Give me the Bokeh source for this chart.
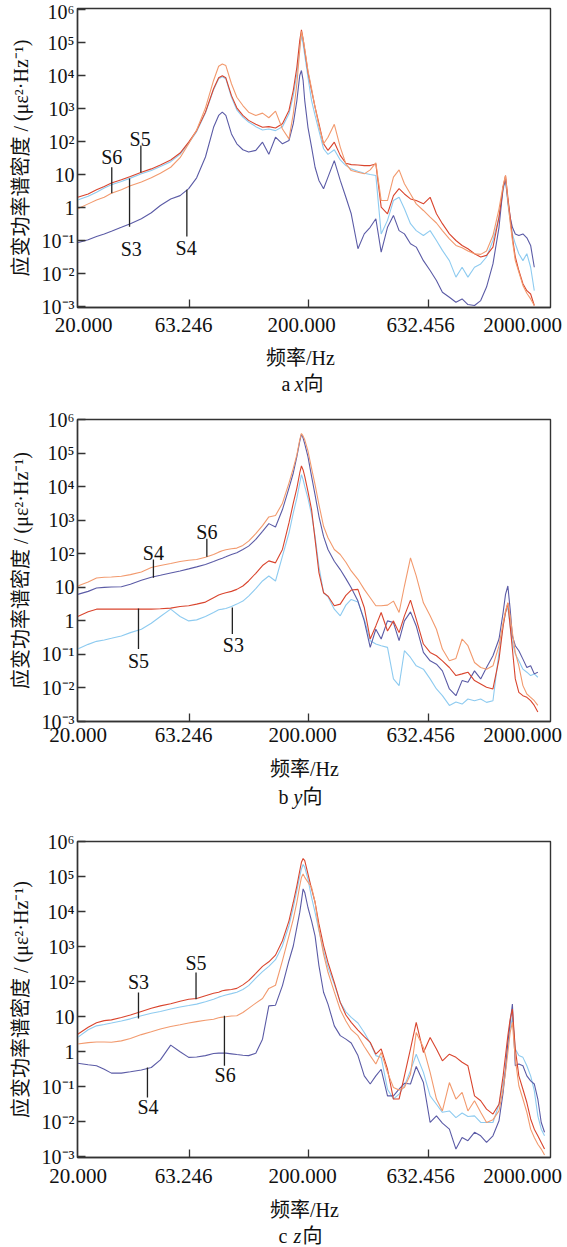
import numpy as np
from bokeh.plotting import figure
from bokeh.models import Range1d, FixedTicker, Label, LinearAxis, LinearScale
from bokeh.layouts import column
from bokeh.embed import file_html
from bokeh.resources import INLINE

# ---------------- data (frequency in Hz, PSD as log10 of με²/Hz) ----------------
FREQ_HZ = [21.7, 24, 26, 28, 30, 33, 36, 40, 44, 48, 53, 58, 63, 68, 74, 80, 84, 87, 90, 95,
           100, 106, 112, 120, 128, 136, 145, 155, 165, 172, 178, 183, 186, 189, 192, 198,
           205, 212, 220, 230, 240, 255, 270, 285, 300, 320, 340, 360, 380, 400, 425, 450,
           475, 500, 530, 560, 600, 640, 680, 720, 770, 820, 870, 920, 980, 1040, 1100, 1170,
           1240, 1290, 1320, 1350, 1380, 1410, 1450, 1500, 1560, 1620, 1680, 1740, 1800,
           1860, 1920]

# panel a : x direction
S3_A_LOG10 = [0.24, 0.35, 0.47, 0.60, 0.70, 0.80, 0.90, 1.03, 1.13, 1.25,
              1.40, 1.62, 1.96, 2.31, 2.87, 3.58, 3.91, 3.97, 3.91, 3.35,
              2.97, 2.75, 2.60, 2.46, 2.36, 2.39, 2.34, 2.46, 2.85, 3.40,
              4.06, 4.87, 5.22, 4.97, 4.62, 3.96, 3.25, 2.80, 2.34, 1.79,
              1.62, 1.76, 1.45, 1.28, 1.18, 1.11, 1.05, 1.01, 0.98, -0.79,
              -0.38, 0.22, 0.32, -0.03, -0.48, -0.69, -0.84, -0.69, -0.99, -1.29,
              -1.60, -2.10, -1.80, -2.10, -1.80, -1.70, -1.49, -0.99, -0.28, 0.53,
              0.88, 0.12, -0.38, -0.79, -1.09, -1.39, -1.60, -1.39, -1.80, -2.51]
S4_A_LOG10 = [-1.06, -0.97, -0.87, -0.79, -0.71, -0.59, -0.48, -0.33, -0.15, 0.07,
              0.27, 0.37, 0.58, 0.91, 1.54, 2.44, 2.80, 2.90, 2.80, 2.24,
              1.94, 1.76, 1.69, 1.74, 1.99, 1.62, 2.14, 1.94, 2.04, 2.55,
              3.25, 4.01, 4.16, 3.86, 3.25, 2.44, 1.84, 1.23, 0.83, 0.58,
              0.93, 1.43, 0.83, 0.32, -0.18, -1.24, -0.79, -0.59, -0.33, -1.34,
              -0.59, -0.23, -0.69, -0.79, -1.09, -1.19, -1.60, -1.90, -2.20, -2.56,
              -2.71, -2.86, -2.76, -2.93, -2.96, -2.81, -2.40, -1.70, -0.59, 0.63,
              0.83, 0.22, -0.28, -0.59, -0.79, -0.84, -0.79, -0.91, -1.14, -1.80]
S5_A_LOG10 = [0.32, 0.42, 0.55, 0.65, 0.75, 0.85, 0.95, 1.08, 1.18, 1.30,
              1.45, 1.66, 1.99, 2.34, 2.90, 3.61, 3.94, 4.00, 3.94, 3.40,
              3.03, 2.80, 2.65, 2.53, 2.44, 2.46, 2.42, 2.55, 2.95, 3.56,
              4.26, 5.07, 5.39, 5.12, 4.77, 4.11, 3.56, 3.05, 2.55, 1.94,
              1.74, 1.99, 1.59, 1.35, 1.31, 1.30, 1.28, 1.28, 1.33, 0.02,
              -0.18, 0.37, 0.58, 0.42, 0.27, 0.22, 0.12, 0.32, -0.18, -0.48,
              -0.79, -0.99, -1.14, -1.24, -1.39, -1.49, -1.44, -1.19, -0.28, 0.63,
              0.98, 0.32, -0.28, -0.89, -1.49, -1.90, -2.30, -2.51, -2.61, -2.96]
S6_A_LOG10 = [-0.03, 0.12, 0.24, 0.32, 0.44, 0.55, 0.67, 0.78, 0.91, 1.05,
              1.23, 1.52, 1.94, 2.36, 3.03, 3.86, 4.29, 4.36, 4.31, 3.76,
              3.35, 3.10, 2.90, 2.80, 2.87, 2.73, 2.93, 2.39, 2.09, 2.85,
              3.76, 4.77, 5.35, 5.12, 4.82, 4.16, 3.61, 3.05, 2.49, 1.94,
              2.14, 2.53, 1.84, 1.33, 1.13, 1.08, 1.03, 1.15, 1.36, 0.22,
              0.22, 0.93, 1.15, 0.73, 0.42, 0.12, -0.08, -0.28, -0.46, -0.69,
              -0.94, -1.14, -1.21, -1.31, -1.39, -1.41, -1.31, -0.84, -0.03, 0.68,
              0.98, 0.22, -0.43, -0.99, -1.60, -1.95, -2.35, -2.59, -2.76, -2.96]

# panel b : y direction
S3_B_LOG10 = [-0.84, -0.70, -0.61, -0.57, -0.52, -0.45, -0.35, -0.25, -0.07, 0.13,
              0.35, 0.13, 0.00, 0.03, 0.13, 0.25, 0.33, 0.35, 0.37, 0.43,
              0.50, 0.59, 0.74, 0.96, 1.19, 1.34, 1.19, 1.93, 2.62, 3.22,
              3.66, 4.11, 4.36, 4.21, 4.01, 3.66, 3.17, 2.52, 1.63, 0.84,
              0.72, 0.35, 0.15, 0.47, 0.64, 0.56, 0.05, -0.59, -0.69, -0.74,
              -0.79, -1.73, -1.93, -0.89, -1.09, -1.34, -1.44, -1.73, -2.03, -2.23,
              -2.52, -2.42, -2.48, -2.33, -2.38, -2.33, -2.43, -2.38, -0.94, -0.15,
              0.25, 0.40, -0.15, -0.64, -0.99, -1.19, -1.44, -1.53, -1.63, -1.58, -1.68]
S4_B_LOG10 = [0.79, 0.88, 0.98, 1.00, 1.01, 1.02, 1.09, 1.21, 1.30, 1.36,
              1.43, 1.49, 1.55, 1.61, 1.68, 1.77, 1.83, 1.87, 1.91, 1.98,
              2.03, 2.13, 2.23, 2.43, 2.67, 2.90, 2.80, 3.32, 3.96, 4.41,
              4.90, 5.35, 5.57, 5.45, 5.28, 4.90, 4.31, 3.76, 3.12, 2.52,
              2.13, 1.78, 1.53, 1.26, 0.99, 0.59, 0.00, -0.79, -0.25, -0.54,
              0.00, -0.05, -0.59, 0.00, 0.27, -0.15, -0.94, -1.19, -1.29, -1.49,
              -2.03, -2.23, -1.78, -1.83, -1.49, -1.73, -1.39, -1.04, -0.54, 0.25,
              0.79, 1.04, 0.35, -0.45, -0.74, -0.89, -1.14, -1.39, -1.34, -1.58, -1.53]
S5_B_LOG10 = [0.13, 0.27, 0.35, 0.35, 0.35, 0.35, 0.35, 0.35, 0.35, 0.36,
              0.38, 0.43, 0.45, 0.50, 0.56, 0.69, 0.77, 0.81, 0.84, 0.88,
              0.94, 1.04, 1.19, 1.42, 1.65, 1.79, 1.73, 2.13, 2.92, 3.51,
              3.96, 4.41, 4.62, 4.50, 4.31, 3.86, 3.32, 2.43, 1.44, 0.84,
              0.74, 0.45, 0.50, 0.76, 0.92, 0.94, 0.40, -0.54, -0.15, 0.25,
              -0.30, 0.00, -0.35, 0.15, 0.62, 0.05, -0.69, -0.94, -1.04, -1.19,
              -1.39, -1.63, -1.58, -1.53, -1.78, -1.88, -1.98, -2.03, -1.14, -0.15,
              0.25, 0.54, -0.15, -0.84, -1.73, -2.13, -2.23, -2.28, -2.38, -2.52, -2.72]
S6_B_LOG10 = [1.04, 1.16, 1.28, 1.30, 1.31, 1.33, 1.38, 1.46, 1.59, 1.65,
              1.71, 1.77, 1.81, 1.83, 1.90, 1.98, 2.05, 2.09, 2.12, 2.15,
              2.17, 2.25, 2.38, 2.60, 2.84, 3.10, 3.14, 3.51, 4.11, 4.55,
              4.95, 5.40, 5.59, 5.51, 5.40, 5.07, 4.55, 4.06, 3.47, 2.82,
              2.48, 2.13, 1.98, 1.75, 1.49, 1.24, 0.94, 0.69, 0.45, 0.45,
              0.47, 0.59, 0.25, 1.04, 1.88, 1.34, 0.54, 0.15, -0.25, -0.84,
              -1.19, -1.12, -0.54, -0.74, -1.24, -1.39, -1.44, -1.34, -0.74, -0.05,
              0.30, 0.54, 0.15, -0.35, -0.94, -1.34, -1.93, -2.18, -2.28, -2.38, -2.52]

# panel c : z direction
S3_C_LOG10 = [0.41, 0.63, 0.74, 0.78, 0.82, 0.88, 0.94, 1.03, 1.10, 1.15,
              1.22, 1.28, 1.32, 1.36, 1.43, 1.50, 1.56, 1.59, 1.62, 1.66,
              1.70, 1.78, 1.89, 2.10, 2.29, 2.44, 2.63, 3.03, 3.60, 4.12,
              4.60, 5.01, 5.22, 5.35, 5.27, 4.93, 4.41, 3.98, 3.46, 2.89,
              2.41, 1.93, 1.41, 1.14, 0.98, 0.82, 0.55, 0.25, -0.11, -0.16,
              -1.07, -1.35, -1.21, -0.97, -0.54, -0.07, -0.59, -1.26, -1.50, -1.73,
              -1.69, -1.88, -1.75, -1.85, -1.83, -2.02, -2.02, -2.02, -1.50, -0.88,
              -0.50, 0.17, 0.65, 0.98, 0.08, -0.11, -0.16, -0.40, -0.69, -1.11,
              -1.83, -2.21, -2.40]
S4_C_LOG10 = [-0.33, -0.37, -0.40, -0.50, -0.61, -0.61, -0.57, -0.52, -0.45, -0.23,
              0.19, 0.00, -0.16, -0.15, -0.11, -0.05, -0.04, -0.04, -0.04, -0.06,
              -0.08, -0.10, -0.11, -0.04, 0.36, 1.31, 1.33, 1.89, 2.60, 3.02,
              3.55, 3.98, 4.31, 4.65, 4.55, 4.12, 3.74, 3.31, 2.46, 1.70,
              1.36, 0.74, 0.46, 0.36, 0.25, -0.11, -0.69, -0.92, -0.69, -0.50,
              -1.26, -1.26, -1.07, -0.90, -0.92, -0.42, -0.88, -2.02, -1.83, -2.04,
              -2.21, -2.78, -2.45, -2.54, -2.30, -2.40, -2.59, -2.40, -1.97, -1.16,
              -0.50, 0.27, 0.84, 1.36, -0.40, -0.35, -0.40, -0.69, -0.83, -0.92,
              -1.35, -2.02, -2.30]
S5_C_LOG10 = [0.50, 0.70, 0.83, 0.89, 0.91, 0.98, 1.05, 1.15, 1.24, 1.31,
              1.37, 1.44, 1.50, 1.52, 1.60, 1.67, 1.70, 1.74, 1.76, 1.78,
              1.81, 1.91, 2.03, 2.24, 2.44, 2.57, 2.76, 3.17, 3.74, 4.27,
              4.74, 5.17, 5.41, 5.52, 5.46, 5.08, 4.65, 4.27, 3.65, 3.03,
              2.55, 1.98, 1.41, 1.05, 0.84, 0.62, 0.43, 0.27, -0.07, 0.08,
              -0.50, -1.35, -1.35, -0.69, 0.08, 0.84, -0.02, 0.41, 0.08, -0.26,
              -0.07, -0.16, -0.30, -0.40, -1.26, -1.40, -1.64, -1.78, -1.50, -0.69,
              -0.11, 0.46, 0.93, 1.22, 0.08, -0.69, -1.07, -1.45, -1.92, -2.21,
              -2.40, -2.59, -2.78]
S6_C_LOG10 = [0.22, 0.26, 0.28, 0.28, 0.27, 0.31, 0.38, 0.49, 0.57, 0.65,
              0.72, 0.77, 0.82, 0.86, 0.90, 0.93, 0.97, 0.99, 1.00, 1.02,
              1.03, 1.12, 1.24, 1.39, 1.52, 1.81, 1.90, 2.60, 3.31, 3.79,
              4.27, 4.74, 4.98, 5.08, 4.98, 4.84, 4.70, 4.27, 3.50, 2.79,
              2.27, 1.71, 1.20, 0.88, 0.63, 0.46, 0.15, -0.11, -0.35, -0.02,
              -0.59, -1.02, -1.09, -1.02, -0.64, 0.55, 0.12, -0.59, -1.35, -1.69,
              -0.88, -1.35, -1.16, -1.69, -1.40, -1.73, -2.02, -1.94, -1.69, -1.07,
              -0.59, -0.02, 0.55, 0.84, -0.21, -0.97, -1.35, -1.73, -2.21, -2.45,
              -2.64, -2.78, -2.95]

SERIES_NAMES = ["S3", "S4", "S5", "S6"]

# callouts: (name, label Hz, label PSD, leader Hz, leader PSD top, leader PSD bottom)
CALLOUTS_A = [("S6", 30.1, 34.0, 30.1, 17.0, 2.75),
              ("S5", 39.5, 123.0, 39.8, 77.6, 11.7),
              ("S3", 36.3, 0.0575, 35.7, 7.76, 0.269),
              ("S4", 61.5, 0.0617, 61.9, 3.55, 0.135)]
CALLOUTS_B = [("S4", 44.9, 107.0, 44.9, 67.6, 19.5),
              ("S6", 75.0, 457.0, 75.0, 282.0, 81.3),
              ("S5", 38.9, 0.0617, 38.9, 2.34, 0.145),
              ("S3", 96.8, 0.195, 95.8, 2.51, 0.407)]
CALLOUTS_C = [("S3", 38.9, 100.0, 38.9, 49.0, 8.9),
              ("S5", 67.6, 339.0, 67.6, 182.0, 31.6),
              ("S6", 89.4, 0.214, 88.8, 10.7, 0.398),
              ("S4", 42.6, 0.0257, 42.4, 0.355, 0.049)]

X_TICKS = [63.246, 200.0, 632.456]
X_TICK_LABELS = ["20.000", "63.246", "200.000", "632.456", "2000.000"]
Y_TICKS = [1e-3, 1e-2, 1e-1, 1.0, 10.0, 100.0, 1e3, 1e4, 1e5, 1e6]
Y_TICK_LABELS = ["10⁻³", "10⁻²", "10⁻¹", "1", "10", "10²", "10³", "10⁴", "10⁵", "10⁶"]
Y_TITLE = "应变功率谱密度 / (με²·Hz⁻¹)"
X_TITLE = "频率/Hz"

# ---------------- style / layout (pixel positions) ----------------
W = 567
LEFT, RIGHT = 77, 17
FRAME_L, FRAME_R = LEFT, W - RIGHT
X_START, X_END = 21.66, 2033.0
SERIF = "Liberation Serif, Noto Sans CJK SC"
FRAME = "#333333"
TXT = "#111111"
COLORS = {"S3": "#8ecbf0", "S4": "#5b5ba6", "S5": "#d9452e", "S6": "#f29a6e"}

PANELS = [
    dict(series=[S3_A_LOG10, S4_A_LOG10, S5_A_LOG10, S6_A_LOG10], callouts=CALLOUTS_A,
         letter="a", axis="x", ylog=(-3.02, 6.04), bt=8, frame_h=299, bb=36, tick_standoff=10,
         tick_x=[83.0, 183.0, 301.0, 420.0, 522.0],
         text_h=57, title_x=300, title_dy=14, cap_x=(281, 294, 303), cap_dy=40),
    dict(series=[S3_B_LOG10, S4_B_LOG10, S5_B_LOG10, S6_B_LOG10], callouts=CALLOUTS_B,
         letter="b", axis="y", ylog=(-3.0, 6.005), bt=19, frame_h=302, bb=32, tick_standoff=6,
         tick_x=[77.5, 183.0, 302.0, 420.0, 522.0],
         text_h=67, title_x=304, title_dy=15, cap_x=(278, 293, 302), cap_dy=43),
    dict(series=[S3_C_LOG10, S4_C_LOG10, S5_C_LOG10, S6_C_LOG10], callouts=CALLOUTS_C,
         letter="c", axis="z", ylog=(-3.02, 6.005), bt=21, frame_h=316, bb=36, tick_standoff=11,
         tick_x=[77.5, 183.0, 302.0, 420.0, 522.0],
         text_h=53, title_x=304, title_dy=16, cap_x=(278, 293, 302), cap_dy=42),
]


def txt_label(size="20px", **kw):
    base = dict(text_font=SERIF, text_font_size=size, text_color=TXT)
    base.update(kw)
    return Label(**base)


def build_plot(cfg):
    ylo, yhi = cfg["ylog"]
    height = cfg["bt"] + cfg["frame_h"] + cfg["bb"]
    p = figure(width=W, height=height, x_axis_type="log", y_axis_type="log",
               x_range=Range1d(X_START, X_END), y_range=Range1d(10 ** ylo, 10 ** yhi),
               output_backend="svg", toolbar_location=None,
               min_border_left=LEFT, min_border_right=RIGHT,
               min_border_top=cfg["bt"], min_border_bottom=cfg["bb"])
    p.xgrid.visible = False
    p.ygrid.visible = False
    p.outline_line_color = FRAME
    p.outline_line_width = 1.4
    p.outline_line_alpha = 1.0

    for ax in (p.xaxis[0], p.yaxis[0]):
        ax.axis_line_color = FRAME
        ax.axis_line_width = 1.4
        ax.major_tick_line_color = FRAME
        ax.major_tick_line_width = 1.3
        ax.major_tick_in = 8
        ax.major_tick_out = 0
        ax.minor_tick_line_color = None
        ax.major_label_text_font = SERIF
        ax.major_label_text_color = TXT

    # log axis: tick marks only (inside the frame)
    xa = p.xaxis[0]
    xa.ticker = FixedTicker(ticks=X_TICKS, minor_ticks=[])
    xa.major_label_overrides = {t: "" for t in X_TICKS}
    xa.major_label_text_font_size = "0px"
    xa.major_label_standoff = 0

    # label row for the frequency axis, placed as in the original figure (pixel scale)
    p.extra_x_ranges = {"px": Range1d(FRAME_L, FRAME_R)}
    p.extra_x_scales = {"px": LinearScale()}
    lab = LinearAxis(x_range_name="px",
                     ticker=FixedTicker(ticks=cfg["tick_x"], minor_ticks=[]),
                     major_label_overrides=dict(zip(cfg["tick_x"], X_TICK_LABELS)),
                     axis_line_color=None, major_tick_line_color=None, minor_tick_line_color=None,
                     major_tick_in=0, major_tick_out=0, minor_tick_in=0, minor_tick_out=0,
                     major_label_standoff=cfg["tick_standoff"],
                     major_label_text_font=SERIF, major_label_text_font_size="21px",
                     major_label_text_color=TXT)
    p.add_layout(lab, "below")

    ya = p.yaxis[0]
    ya.ticker = FixedTicker(ticks=Y_TICKS, minor_ticks=[])
    ya.major_label_overrides = dict(zip(Y_TICKS, Y_TICK_LABELS))
    ya.major_label_text_font_size = "20px"
    ya.major_label_standoff = 3
    ya.axis_label = Y_TITLE
    ya.axis_label_text_font = SERIF
    ya.axis_label_text_font_size = "20px"
    ya.axis_label_text_font_style = "normal"
    ya.axis_label_text_color = TXT
    ya.axis_label_standoff = 7

    for name, logs in zip(SERIES_NAMES, cfg["series"]):
        f = FREQ_HZ[:len(logs)]
        v = (10.0 ** np.array(logs)).tolist()
        p.line(f, v, line_color=COLORS[name], line_width=1.1)

    for name, lx, ly, sx, sy0, sy1 in cfg["callouts"]:
        p.segment(x0=[sx], y0=[sy0], x1=[sx], y1=[sy1], line_color="#222222", line_width=1.3)
        p.add_layout(txt_label(x=lx, y=ly, text=name, text_align="center", text_baseline="middle"))
    return p


def build_text(cfg):
    h = cfg["text_h"]
    t = figure(width=W, height=h, x_range=Range1d(FRAME_L, FRAME_R), y_range=Range1d(h, 0),
               output_backend="svg", toolbar_location=None,
               min_border_left=LEFT, min_border_right=RIGHT, min_border_top=0, min_border_bottom=0,
               x_axis_location=None, y_axis_location=None)
    t.outline_line_color = None
    t.xgrid.visible = False
    t.ygrid.visible = False
    t.add_layout(txt_label(x=cfg["title_x"], y=cfg["title_dy"], text=X_TITLE,
                           text_align="center", text_baseline="middle"))
    x1, x2, x3 = cfg["cap_x"]
    dy = cfg["cap_dy"]
    t.add_layout(txt_label(x=x1, y=dy, text=cfg["letter"], text_align="left", text_baseline="middle"))
    t.add_layout(txt_label(x=x2, y=dy, text=cfg["axis"], text_font_style="italic",
                           text_align="left", text_baseline="middle"))
    t.add_layout(txt_label(x=x3, y=dy, text="向", text_align="left", text_baseline="middle"))
    return t


children = []
for cfg in PANELS:
    children.append(build_plot(cfg))
    children.append(build_text(cfg))

layout = column(*children, spacing=0)
open("out.html", "w").write(file_html(layout, INLINE))
